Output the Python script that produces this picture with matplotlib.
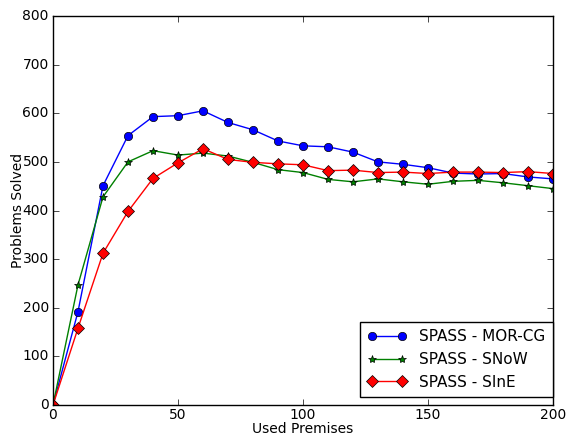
import numpy as np
import matplotlib
matplotlib.use("Agg")
import matplotlib.pyplot as plt

plt.style.use('classic')
plt.rcParams['font.size'] = 10

premises = [0, 10, 20, 30, 40, 50, 60, 70, 80, 90, 100,
            110, 120, 130, 140, 150, 160, 170, 180, 190, 200]
mor_cg = [0, 192, 451, 554, 593, 595, 605, 581, 566, 543, 533,
          531, 520, 500, 495, 488, 477, 475, 476, 469, 465]
snow = [0, 247, 428, 500, 523, 514, 518, 512, 499, 484, 478,
        464, 459, 465, 459, 454, 460, 462, 457, 451, 445]
sine = [0, 158, 312, 398, 466, 498, 527, 505, 499, 496, 494,
        482, 483, 478, 479, 476, 479, 479, 478, 480, 476]
names = ["SPASS - MOR-CG", "SPASS - SNoW", "SPASS - SInE"]

fig = plt.figure(figsize=(5.68, 4.38), dpi=100, facecolor='white')
ax = fig.add_axes([0.0933, 0.0753, 0.8803, 0.8882])

ax.plot(premises, mor_cg, 'b-o', markersize=6, label=names[0])
ax.plot(premises, snow, 'g-*', markersize=6, label=names[1])
ax.plot(premises, sine, 'r-D', markersize=6, label=names[2])

ax.set_xlim(0, 200)
ax.set_ylim(0, 800)
ax.tick_params(axis='x', pad=2)
ax.tick_params(axis='y', pad=3)
ax.set_xlabel("Used Premises", labelpad=0)
ax.set_ylabel("Problems Solved", labelpad=-2)
ax.legend(loc='lower right', bbox_to_anchor=(1.0, 0.02), borderaxespad=0,
          numpoints=2, fontsize=11, handlelength=2.6, borderpad=0.5)

fig.savefig("out.png", dpi=100, facecolor='white')
